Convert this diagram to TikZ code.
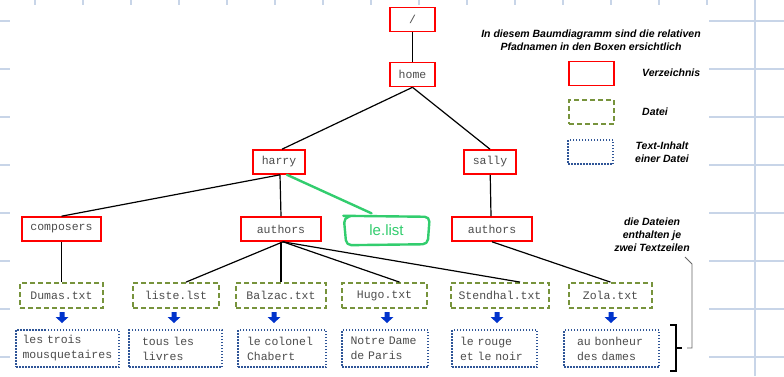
\documentclass[tikz,border=0pt]{standalone}
\usepackage{fontspec}
\setmainfont{Liberation Sans}
\newfontfamily\monofont{Liberation Mono}

\definecolor{gridblue}{RGB}{200,213,232}
\definecolor{dirred}{RGB}{255,0,0}
\definecolor{fileolive}{RGB}{119,147,60}
\definecolor{textblue}{RGB}{47,85,151}
\definecolor{arrowblue}{RGB}{0,51,204}
\definecolor{markergreen}{RGB}{50,205,110}

\tikzset{
  monotext/.style={font=\monofont\fontsize{11.5}{15}\selectfont, text=black!70},
  dirbox/.style={draw=dirred, line width=1.6pt, minimum width=#1, minimum height=24,
    inner sep=0pt, monotext},
  dirbox/.default=45,
  filebox/.style={draw=fileolive, line width=1.8pt, dash pattern=on 5pt off 3pt,
    minimum width=#1, minimum height=25, inner sep=0pt, monotext},
  contentbox/.style n args={2}{draw=textblue, line width=1.6pt,
    dash pattern=on 1.5pt off 1.5pt, text width=#1, inner xsep=#2, inner ysep=0pt,
    minimum height=37, align=left, monotext},
  link/.style={draw=black, line width=1.2pt},
  marker/.style={draw=markergreen, line width=2.4pt, line cap=round, line join=round},
  legendtext/.style={font=\fontsize{10.5}{13}\selectfont\bfseries\itshape, inner sep=0pt},
  downarrow/.pic={\fill[arrowblue] (-2.5,0) -- (2.5,0) -- (2.5,5) -- (6.5,5) -- (0,11)
    -- (-6.5,5) -- (-2.5,5) -- cycle;}
}

\begin{document}
\begin{tikzpicture}[x=1pt,y=-1pt]
\useasboundingbox (0,0) rectangle (784,376);

% graph paper behind the sheet
\foreach \gx in {35,83,...,755} \draw[gridblue, line width=2pt] (\gx,0) -- (\gx,376);
\foreach \gy in {21,69,...,357} \draw[gridblue, line width=2pt] (0,\gy) -- (784,\gy);
\fill[white] (10,5) rectangle (709,377);

% directories
\node[dirbox] (root) at (412.5,19.5) {/};
\node[dirbox] (home) at (412.5,74.5) {home};
\node[dirbox=52] (harry) at (279,162) {harry};
\node[dirbox=52] (sally) at (490,162) {sally};
\node[dirbox=79] (composers) at (61.5,229) {composers};
\node[dirbox=80] (authA) at (281,229) {authors};
\node[dirbox=80] (authB) at (492,229) {authors};

% files
\node[filebox=83] (dumas) at (61.5,295.5) {Dumas.txt};
\node[filebox=86] (liste) at (176,295.5) {liste.lst};
\node[filebox=90] (balzac) at (281,295.5) {Balzac.txt};
\node[filebox=85] (hugo) at (384.5,295.5) {Hugo.txt};
\node[filebox=98] (stendhal) at (500,295.5) {Stendhal.txt};
\node[filebox=83] (zola) at (610.5,295.5) {Zola.txt};

% file contents
\node[contentbox={90}{6.5}] (c1) at (67.5,348.5) {les trois\\mousquetaires};
\node[contentbox={67}{13}] (c2) at (175.5,348.5) {tous les\\livres};
\node[contentbox={70}{9}] (c3) at (282,348.5) {le colonel\\Chabert};
\node[contentbox={69}{8.5}] (c4) at (385,348.5) {Notre Dame\\de Paris};
\node[contentbox={69}{8}] (c5) at (494.5,348.5) {le rouge\\et le noir};
\node[contentbox={69}{13}] (c6) at (611.5,348.5) {au bonheur\\des dames};

% arrows from file to content
\foreach \ax in {62,174,274,387,497,611} \pic at (\ax,312) {downarrow};

% tree connectors
\draw[link] (root) -- (home);
\draw[link] (home.south) -- ([xshift=3pt]harry.north);
\draw[link] (home.south) -- (sally.north);
\draw[link] ([xshift=1pt]harry.south) -- (composers.north);
\draw[link] ([xshift=1pt]harry.south) -- (authA.north);
\draw[link] (sally) -- ([xshift=-1pt]authB.north);
\draw[link] (composers) -- (dumas);
\draw[link] ([xshift=2pt]authA.south) -- ([xshift=10pt]liste.north);
\draw[link] (authA.south) -- (balzac.north);
\draw[link] ([xshift=2pt]authA.south) -- ([xshift=15pt]hugo.north);
\draw[link] ([xshift=2pt]authA.south) -- ([xshift=20pt]stendhal.north);
\draw[link] (authB.south) -- (zola.north);

% handwritten note: loosely drawn frame around the label
\node[minimum width=84, minimum height=30, inner sep=0pt, text=markergreen,
  font=\fontsize{15}{15}\selectfont] (note) at (386.5,230) {le.list};
\draw[marker, rounded corners=5pt]
  ([xshift=-1pt,yshift=-1pt]note.north west) -- ([xshift=1pt,yshift=-2pt]note.north east)
  -- ([xshift=-1pt,yshift=1pt]note.south east) -- ([xshift=2pt]note.south west)
  -- ([xshift=-0.5pt,yshift=-3pt]note.north west) -- ([xshift=6pt,yshift=-1.5pt]note.north west);
\draw[marker] ([xshift=8pt]harry.south) -- ([xshift=-15pt,yshift=1.5pt]note.north);

% legend
\node[legendtext, align=center] (title) at (591,40) {In diesem Baumdiagramm sind die relativen\\Pfadnamen in den Boxen ersichtlich};
\node[dirbox] (legdir) at (591.5,73.5) {};
\node[filebox=45, minimum height=24] (legfile) at (591.5,112) {};
\node[contentbox={45}{0}, minimum height=24] (legtext) at (590.5,152) {};
\node[legendtext, anchor=base west] (ldir) at (642,76) {Verzeichnis};
\node[legendtext, anchor=base west] (lfile) at (642,115) {Datei};
\node[legendtext, align=center] (ltext) at (662,152) {Text-Inhalt\\einer Datei};
\node[legendtext, align=center] (lnote) at (652,235) {die Dateien\\enthalten je\\zwei Textzeilen};

% bracket over the content lines and its callout
\draw[black, line width=1.3pt] (670,325) -- (676,325) -- (676,371) -- (670,371);
\draw[black, line width=1.3pt] (676,348) -- (682,348);
\coordinate (calloutTop) at (685,257);
\draw[black!60, line width=0.8pt] (calloutTop) -- (692,264) -- (692,348) -- (687,348);
\end{tikzpicture}
\end{document}
